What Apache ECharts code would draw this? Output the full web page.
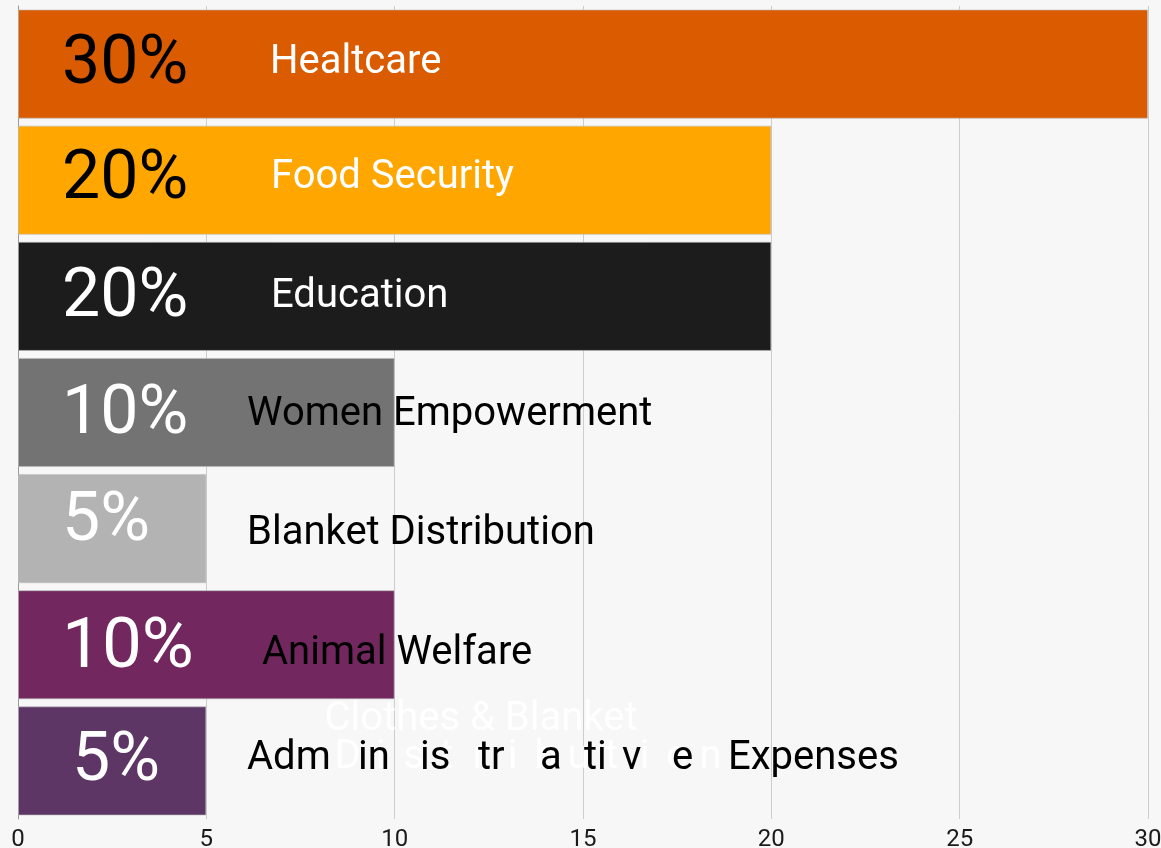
<!DOCTYPE html>
<html><head><meta charset="utf-8">
<script src="https://cdn.jsdelivr.net/npm/echarts@6/dist/echarts.min.js"></script>
<style>html,body{margin:0;padding:0;background:#f7f7f7}#c{width:1161px;height:848px}</style>
</head><body><div id="c"></div>
<script>
// ---- data ----
const categories = ['Healtcare', 'Food Security', 'Education', 'Women Empowerment', 'Blanket Distribution', 'Animal Welfare', 'Administrative Expenses'];
const values = [30, 20, 20, 10, 5, 10, 5];
const xTicks = [0, 5, 10, 15, 20, 25, 30];
const adminPieces = ['Adm', 'in', 'is', 'tr', 'a', 'ti', 'v', 'e', 'Expenses'];
const ghostLine1 = 'Clothes & Blanket';
const ghostLine2 = 'Distribution';

// ---- styles ----
const barColors = ['#DA5B00', '#FFA600', '#1C1C1C', '#737373', '#B3B3B3', '#72285E', '#5E3666'];
const pctColors = ['#000', '#000', '#fff', '#fff', '#fff', '#fff', '#fff'];
const pctSizes = [68, 68, 68, 68, 68, 71, 68];
const pctOffsets = [[44, 2], [44, 1], [44, 3], [44, 3], [44, -6], [44, 4], [54, 2]];
const nameColors = ['#fff', '#fff', '#fff', '#000', '#000', '#000', '#000'];
const nameOffsets = [[252, -1], [253, -2], [253, 1], [229, 2], [229, 5], [244, 9], [229, -2]];
const adminWidths = [111, 62, 58, 62, 44, 38, 50, 56, null];
const FONT = 'Roboto';

const chart = echarts.init(document.getElementById('c'), null, { renderer: 'canvas' });

const pctData = values.map((v, i) => ({
  value: v,
  itemStyle: { color: barColors[i] },
  label: {
    show: true, position: 'insideLeft', distance: 0, offset: pctOffsets[i],
    formatter: v + '%', color: pctColors[i], fontSize: pctSizes[i], fontFamily: FONT
  }
}));

const adminRich = {};
adminPieces.forEach((p, k) => {
  adminRich['p' + k] = { fontSize: 40, fontFamily: FONT, color: '#000' };
  if (adminWidths[k]) adminRich['p' + k].width = adminWidths[k];
});
const adminText = adminPieces.map((p, k) => '{p' + k + '|' + p + '}').join('');

const nameData = values.map((v, i) => {
  const isAdmin = i === categories.length - 1;
  return {
    value: v,
    label: {
      show: true, position: 'insideLeft', distance: 0, offset: nameOffsets[i],
      formatter: isAdmin ? adminText : categories[i],
      rich: isAdmin ? adminRich : undefined,
      color: nameColors[i], fontSize: 40, fontFamily: FONT
    }
  };
});

const ghostRich = {};
const ghostChars = ghostLine2.split('');
ghostChars.forEach((c, k) => { ghostRich['g' + k] = { width: 33, align: 'center', fontSize: 40, fontFamily: FONT, color: 'rgba(255,255,255,0.9)' }; });
const ghostText2 = ghostChars.map((c, k) => '{g' + k + '|' + c + '}').join('');

chart.setOption({
  backgroundColor: '#f7f7f7',
  animation: false,
  grid: { left: 18, right: 13, top: 6, bottom: 29, containLabel: false, outerBoundsMode: 'none' },
  xAxis: {
    type: 'value', min: xTicks[0], max: xTicks[xTicks.length - 1], interval: xTicks[1] - xTicks[0],
    axisLine: { show: false }, axisTick: { show: false },
    axisLabel: { fontSize: 24, color: '#1a1a1a', margin: 9, fontFamily: FONT },
    splitLine: { show: true, lineStyle: { color: '#cdcdcd', width: 1 } }
  },
  yAxis: {
    type: 'category', data: categories, inverse: true,
    axisLabel: { show: false }, axisTick: { show: false },
    axisLine: { show: true, lineStyle: { color: '#9a9a9a', width: 1 } }
  },
  series: [
    {
      type: 'bar', data: pctData, barCategoryGap: '6%', barGap: '-100%',
      itemStyle: { borderColor: 'rgba(190,190,190,0.6)', borderWidth: 1 }, z: 2
    },
    {
      type: 'bar', data: nameData, barCategoryGap: '6%', barGap: '-100%',
      itemStyle: { color: 'rgba(0,0,0,0)' }, silent: true, z: 3
    }
  ],
  graphic: [
    { type: 'text', x: 481, y: 720, z: 1, style: { text: ghostLine1, fill: 'rgba(255,255,255,0.9)', font: '40px Roboto', textAlign: 'center', textVerticalAlign: 'middle' } },
    { type: 'text', x: 331, y: 758, z: 1, style: { text: ghostText2, rich: ghostRich, fill: 'rgba(255,255,255,0.9)', font: '40px Roboto', textAlign: 'left', textVerticalAlign: 'middle' } }
  ]
});
</script>
</body></html>
